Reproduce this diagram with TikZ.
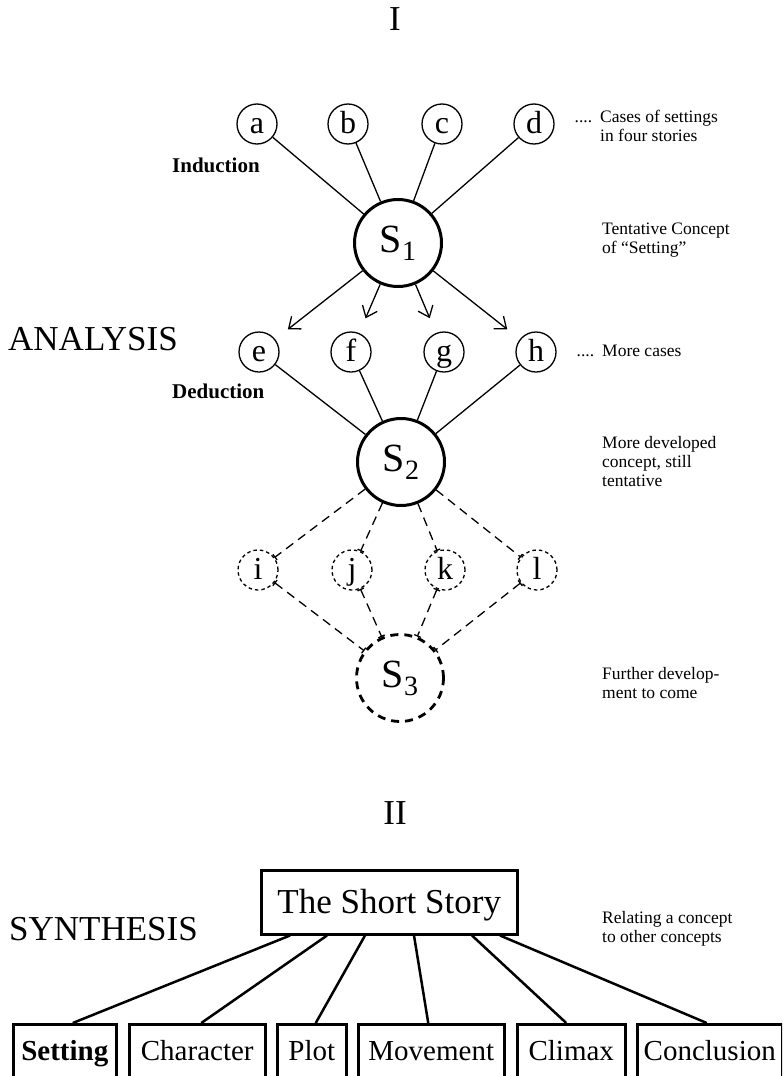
\documentclass[tikz,border=0pt]{standalone}
\usepackage{fontspec}
\setmainfont{Liberation Serif}
\usetikzlibrary{arrows.meta}
\newcommand\Ssub[1]{{\fontsize{40}{40}\selectfont S}\raisebox{-8pt}{\fontsize{28}{28}\selectfont #1}}
\tikzset{tickend/.tip={Bar[width=7pt,line width=1.3pt]}}
\begin{document}
\begin{tikzpicture}[x=1pt,y=-1pt,
  small/.style={font=\fontsize{17.5}{19}\selectfont, align=left, anchor=north west, inner sep=0pt},
  case/.style={circle, draw, line width=1.3pt, minimum size=40pt, inner sep=0pt, font=\fontsize{32}{32}\selectfont, text height=20pt, text depth=2pt},
  dcase/.style={case, dash pattern=on 3.5pt off 3pt},
  concept/.style={circle, draw, line width=3pt, minimum size=87pt, inner sep=0pt},
  dconcept/.style={concept, line width=2.8pt, dash pattern=on 8pt off 6pt},
  link/.style={line width=1.3pt},
  dlink/.style={line width=1.3pt, dash pattern=on 9pt off 6pt},
  arr/.style={link, -{Straight Barb[length=10pt,width=16pt]}, shorten >=16pt},
  big/.style={font=\fontsize{35}{35}\selectfont, inner sep=0pt},
  side/.style={font=\bfseries\fontsize{21}{21}\selectfont, anchor=base west, inner sep=0pt},
  box/.style={draw, line width=2.5pt, inner sep=0pt, font=\fontsize{29}{29}\selectfont, anchor=north west, text height=36pt, text depth=40pt},
  slink/.style={line width=2.5pt}]
\useasboundingbox (0,0) rectangle (782,1076);
\clip (0,0) rectangle (782,1076);

% Part I
\node[big, anchor=base] (t1) at (395,30) {I};
\node[case] (a) at (257,124) {a};
\node[case] (b) at (348,124) {b};
\node[case] (c) at (442,124) {c};
\node[case] (d) at (534,124) {d};
\node[small] (lcases) at (600,110) {\llap{....\hspace{8pt}}Cases of settings\\in four stories};
\node[side] (ind) at (172,172) {Induction};
\node[concept] (S1) at (398,243) {\Ssub{1}};
\node[small] (ltent) at (602,223) {Tentative Concept\\of ``Setting''};

\node[big, anchor=base west] (ana) at (8,350) {ANALYSIS};
\node[case] (e) at (259,352) {e};
\node[case] (f) at (351,352) {f};
\node[case] (g) at (444,352) {g};
\node[case] (h) at (536,352) {h};
\node[small] (lmore) at (602,345) {\llap{....\hspace{8pt}}More cases};
\node[side] (ded) at (172,398) {Deduction};
\node[concept] (S2) at (401,462) {\Ssub{2}};
\node[small] (ldev) at (602,436) {More developed\\concept, still\\tentative};

\node[dcase] (i) at (258,570) {i};
\node[dcase] (j) at (352,570) {j};
\node[dcase] (k) at (445,570) {k};
\node[dcase] (l) at (537,570) {l};
\node[dconcept] (S3) at (400,678) {\Ssub{3}};
\node[small] (lfur) at (602,667) {Further develop-\\ment to come};

\foreach \n in {a,b,c,d} \draw[link] (\n) -- (S1);
\foreach \n in {e,f,g,h} \draw[arr] (S1) -- (\n);
\foreach \n in {e,f,g,h} \draw[link] (\n) -- (S2);
\foreach \n in {i,j,k,l} \draw[dlink, -{tickend}] (S2) -- (\n);
\foreach \n in {i,j,k,l} \draw[dlink, {tickend}-{tickend}] (\n) -- (S3);

% Part II
\node[big, anchor=base] (t2) at (395,824) {II};
\node[big, anchor=base west] (syn) at (9,940) {SYNTHESIS};
\node[box, minimum width=256pt, text height=43pt, text depth=21pt, font=\fontsize{35}{35}\selectfont] (ss) at (260,869) {The Short Story};
\node[small] (lrel) at (602,911) {Relating a concept\\to other concepts};

\node[box, minimum width=103pt, font=\bfseries\fontsize{29}{29}\selectfont] (set) at (12,1023) {Setting};
\node[box, minimum width=136pt] (cha) at (128,1023) {Character};
\node[box, minimum width=69pt] (plo) at (276,1023) {Plot};
\node[box, minimum width=146pt] (mov) at (357,1023) {Movement};
\node[box, minimum width=108pt] (cli) at (516,1023) {Climax};
\node[box, minimum width=145pt] (con) at (636,1023) {Conclusion};

\draw[slink] ([xshift=30pt]ss.south west) -- ([xshift=8pt]set.north);
\draw[slink] ([xshift=67pt]ss.south west) -- ([xshift=4pt]cha.north);
\draw[slink] ([xshift=105pt]ss.south west) -- ([xshift=4pt]plo.north);
\draw[slink] ([xshift=154pt]ss.south west) -- ([xshift=-3pt]mov.north);
\draw[slink] ([xshift=212pt]ss.south west) -- ([xshift=-5pt]cli.north);
\draw[slink] ([xshift=240pt]ss.south west) -- ([xshift=-3pt]con.north);
\end{tikzpicture}
\end{document}
